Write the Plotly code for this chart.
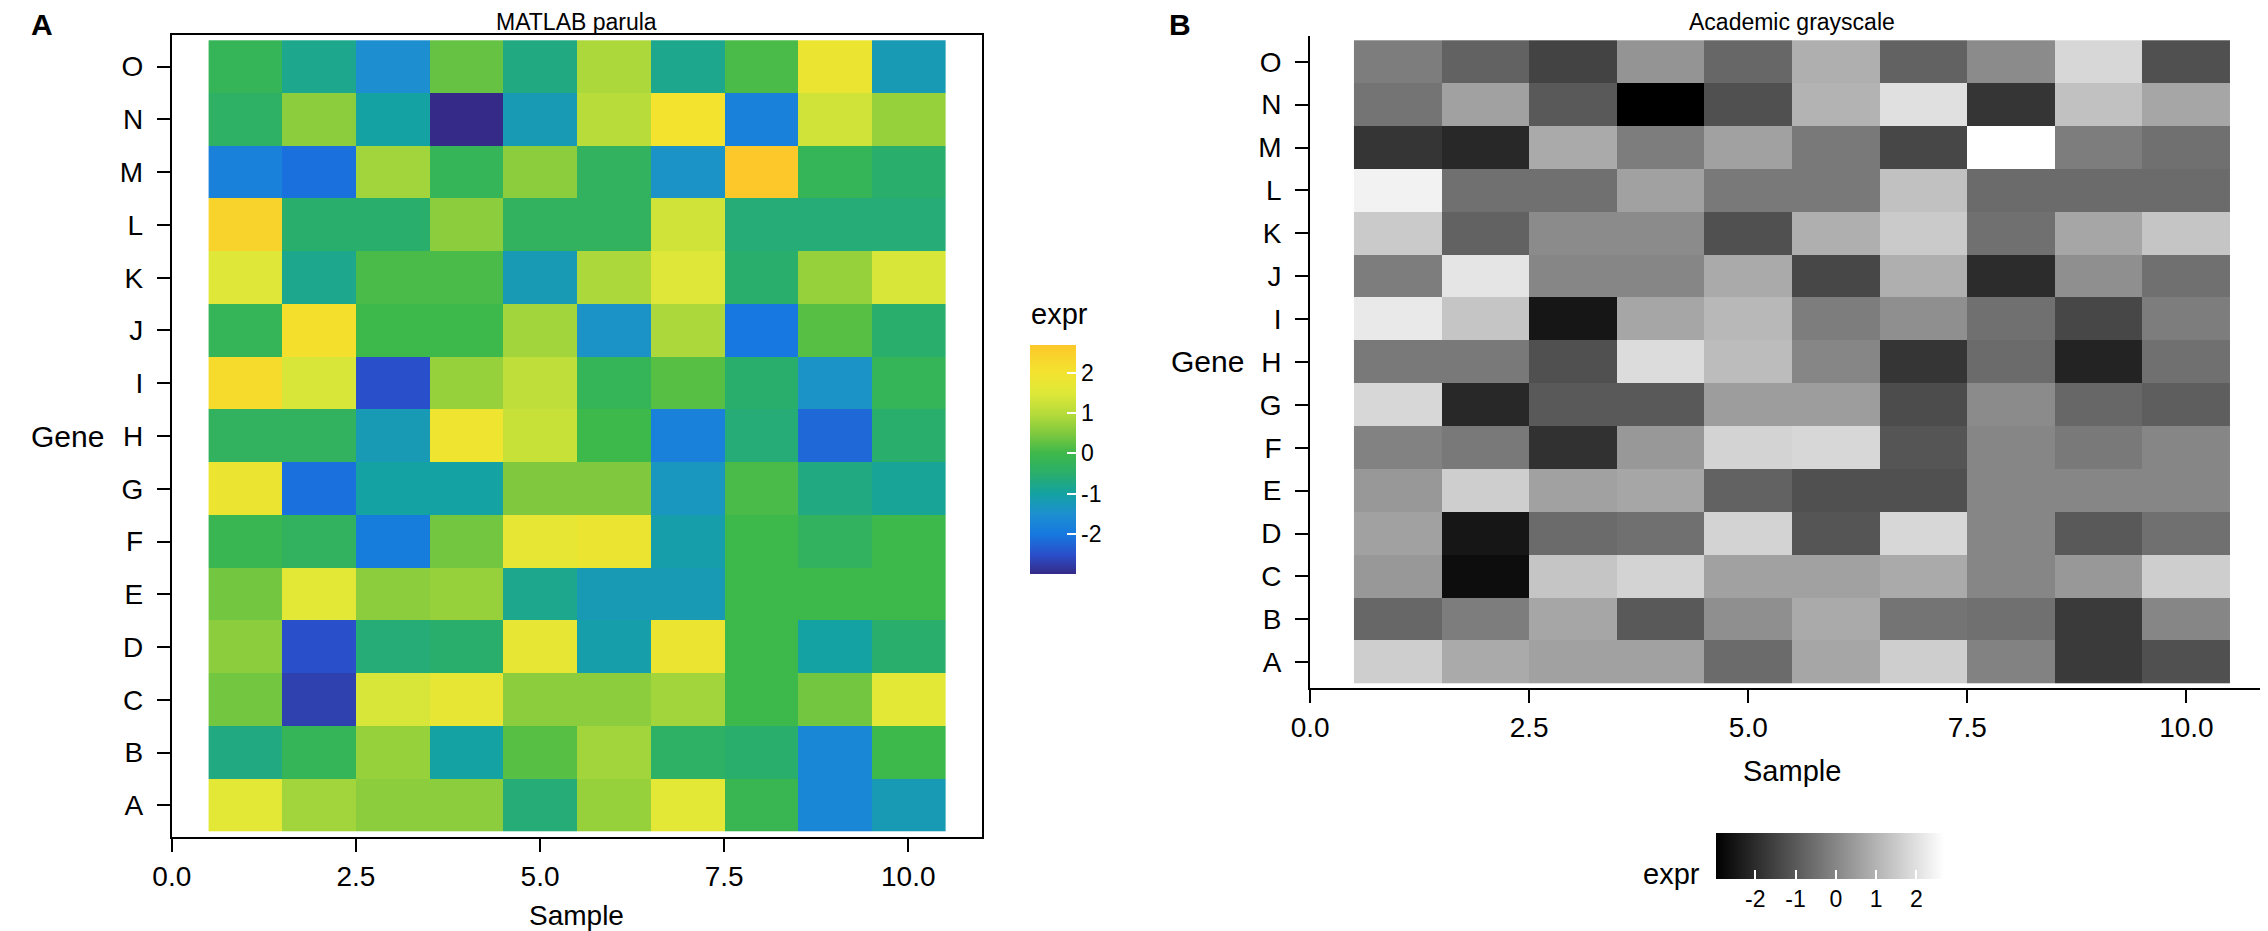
import plotly.graph_objects as go

W, H = 2268, 931

samples = [1, 2, 3, 4, 5, 6, 7, 8, 9, 10]
genes = ["A", "B", "C", "D", "E", "F", "G", "H", "I", "J", "K", "L", "M", "N", "O"]

# expression per gene (row), samples 1..10
expr = [
    [1.6, 0.8, 0.6, 0.6, -0.6, 0.7, 1.6, -0.1, -1.7, -1.2],     # A
    [-0.7, -0.2, 0.7, -1.0, 0.2, 0.8, -0.4, -0.5, -1.7, 0.0],   # B
    [0.4, -2.7, 1.4, 1.7, 0.6, 0.6, 0.8, 0.0, 0.4, 1.6],        # C
    [0.6, -2.5, -0.6, -0.5, 1.7, -1.1, 1.8, 0.0, -1.0, -0.5],   # D
    [0.4, 1.6, 0.6, 0.7, -0.8, -1.2, -1.2, 0.0, 0.0, 0.0],      # E
    [-0.1, -0.3, -1.9, 0.4, 1.7, 1.8, -1.1, 0.0, -0.3, 0.0],    # F
    [1.8, -2.1, -1.0, -1.0, 0.5, 0.5, -1.3, 0.1, -0.7, -0.9],   # G
    [-0.3, -0.3, -1.2, 1.9, 1.2, 0.0, -1.8, -0.6, -2.2, -0.5],  # H
    [2.2, 1.4, -2.5, 0.7, 1.1, -0.2, 0.2, -0.5, -1.4, -0.2],    # I
    [-0.2, 2.1, 0.0, 0.0, 0.8, -1.4, 0.9, -2.0, 0.2, -0.5],     # J
    [1.5, -0.8, 0.1, 0.1, -1.2, 0.9, 1.5, -0.5, 0.7, 1.4],      # K
    [2.4, -0.5, -0.5, 0.6, -0.3, -0.3, 1.3, -0.6, -0.6, -0.6],  # L
    [-1.8, -2.1, 0.8, -0.2, 0.6, -0.3, -1.4, 2.68, -0.2, -0.5], # M
    [-0.4, 0.6, -1.0, -2.98, -1.2, 1.0, 2.0, -1.8, 1.3, 0.7],   # N
    [-0.2, -0.8, -1.5, 0.3, -0.7, 0.9, -0.8, 0.1, 1.8, -1.2],   # O
]

xticks = [0, 2.5, 5, 7.5, 10]
cbar_ticks = [-2, -1, 0, 1, 2]
cbar_labels = ["-2", "-1", "0", "1", "2"]

zmin = min(min(r) for r in expr)
zmax = max(max(r) for r in expr)

# parula-like stops given in data units
parula_stops = [(-3.0, "#352a87"), (-2.5, "#2a4fcb"), (-2.0, "#1678e0"), (-1.5, "#1d8fd0"),
                (-1.0, "#14a2a2"), (-0.5, "#2aae6c"), (0.0, "#3db84a"), (0.5, "#80c93e"),
                (1.0, "#b8dc3a"), (1.5, "#dfe838"), (2.0, "#f3e32e"), (2.7, "#fcc82a")]
parula = []
for v, c in parula_stops:
    f = min(max((v - zmin) / (zmax - zmin), 0), 1)
    parula.append([f, c])
parula[0][0] = 0
parula[-1][0] = 1

grayscale = [[0, "black"], [1, "white"]]

def px(x):
    return x / W

def py(y):
    return 1 - y / H

font = "Liberation Sans, Arial, sans-serif"

cbar_common = dict(thickness=46, thicknessmode="pixels", lenmode="pixels", outlinewidth=0,
                   tickvals=cbar_ticks, ticktext=cbar_labels, ticks="inside", ticklen=9,
                   tickcolor="white", tickwidth=1.5,
                   tickfont=dict(size=23, color="black", family=font))

fig = go.Figure()
fig.add_trace(go.Heatmap(
    x=samples, y=genes, z=expr, colorscale=parula, zmin=zmin, zmax=zmax,
    xaxis="x", yaxis="y",
    colorbar=dict(cbar_common, x=px(1011), xanchor="left", y=py(451.5), yanchor="middle",
                  len=229, ypad=0, xpad=0)))
fig.add_trace(go.Heatmap(
    x=samples, y=genes, z=expr, colorscale=grayscale, zmin=zmin, zmax=zmax,
    xaxis="x2", yaxis="y2",
    colorbar=dict(cbar_common, orientation="h", x=px(1818), xanchor="center", y=py(825),
                  yanchor="top", len=228, xpad=0, ypad=0)))

ax_common = dict(showgrid=False, zeroline=False, showline=True, linecolor="black", linewidth=2,
                 ticks="outside", ticklen=13, tickwidth=2, tickcolor="black",
                 tickfont=dict(size=28, color="black", family=font))
xax = dict(ax_common, range=[0, 11], tickvals=xticks, tickformat=".1f")
yax = dict(ax_common, type="category", categoryorder="array", categoryarray=genes,
           range=[-0.6, 14.6], ticklabelstandoff=8)

fig.update_layout(
    width=W, height=H, margin=dict(l=0, r=0, t=0, b=0),
    paper_bgcolor="white", plot_bgcolor="white",
    font=dict(family=font, color="black"),
    xaxis=dict(xax, domain=[px(146), px(963)], anchor="y", mirror=True),
    yaxis=dict(yax, domain=[py(829), py(27)], anchor="x", mirror=True),
    xaxis2=dict(xax, domain=[px(1294), px(2266)], anchor="y2"),
    yaxis2=dict(yax, domain=[py(680), py(28)], anchor="x2"),
)

annots = [
    ("<b>A</b>", 2, 16, "left", "middle", 30),
    ("<b>B</b>", 1150, 16, "left", "middle", 30),
    ("MATLAB parula", 554, 14, "center", "middle", 23),
    ("Academic grayscale", 1780, 14, "center", "middle", 23),
    ("Gene", 2, 428, "left", "middle", 30),
    ("Gene", 1152, 354, "left", "middle", 30),
    ("Sample", 554, 925, "center", "bottom", 28),
    ("Sample", 1780, 763, "center", "middle", 29),
    ("expr", 1010, 306, "left", "middle", 29),
    ("expr", 1628, 866, "left", "middle", 29),
]
for text, x, y, xa, ya, size in annots:
    fig.add_annotation(text=text, x=px(x), y=py(y), xref="paper", yref="paper",
                       xanchor=xa, yanchor=ya, showarrow=False,
                       font=dict(size=size, color="black", family=font))

fig.write_html("out.html")
